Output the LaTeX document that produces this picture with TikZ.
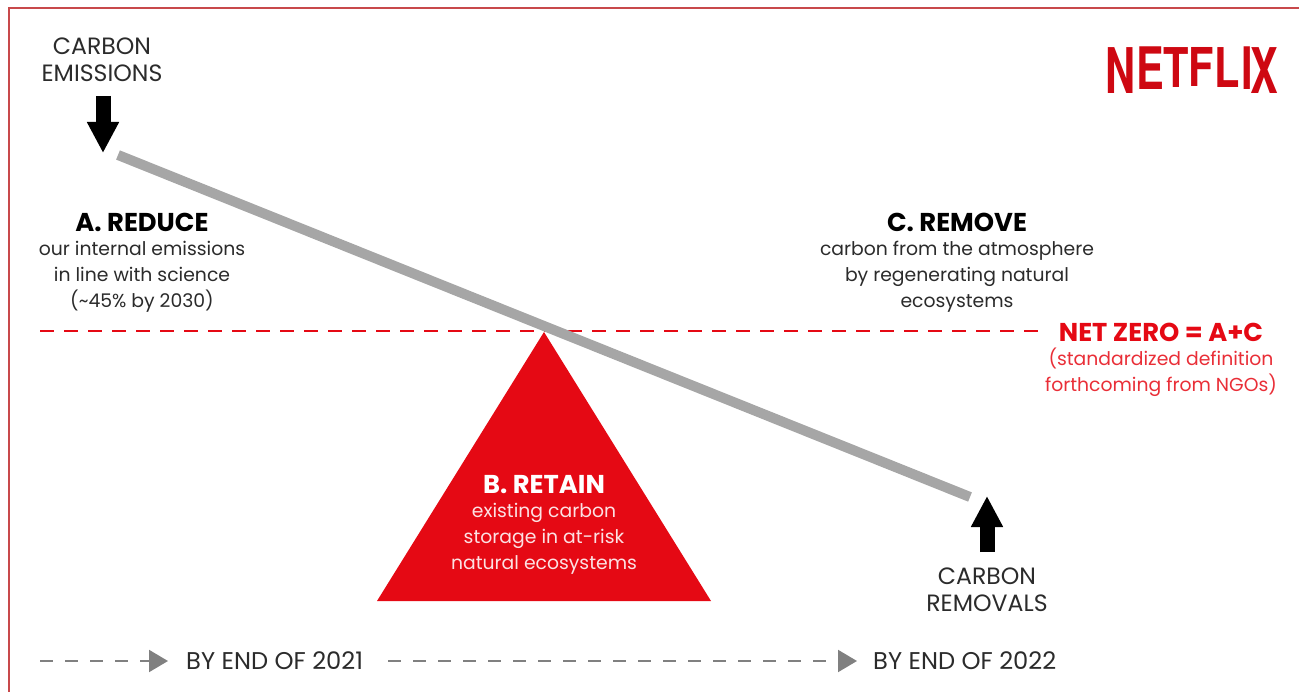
\documentclass[tikz,border=0pt]{standalone}
\usepackage{fontspec}
\setmainfont{Poppins}
\newfontfamily\logofont{TeX Gyre Heros}
\usetikzlibrary{arrows.meta}
\definecolor{nfred}{HTML}{E50914}
\definecolor{inkgray}{HTML}{2B2B2B}
\definecolor{beamgray}{HTML}{A6A6A6}
\definecolor{dashgray}{HTML}{808080}
\definecolor{framered}{HTML}{C8494B}
\tikzset{
  label text/.style={inner sep=0pt,align=center,text=inkgray,font=\fontsize{18.8}{26}\selectfont},
  caps text/.style={inner sep=0pt,align=center,text=inkgray,font=\fontsize{23.6}{27}\selectfont},
  date text/.style={inner sep=0pt,text=inkgray,font=\fontsize{24.2}{27}\selectfont},
  head text/.style={inner sep=0pt,font=\fontsize{25.8}{27}\selectfont\bfseries},
  block arrow/.style={line width=15pt,-{Triangle[length=31pt,width=30pt]}},
  time line/.style={dashgray,line width=2pt,dash pattern=on 13pt off 12pt,-{Triangle[length=19pt,width=22pt]}},
}
\begin{document}
\begin{tikzpicture}[x=1pt,y=-1pt]
  \useasboundingbox (0,0) rectangle (1299,692);
  \draw[framered,line width=2.5pt] (9,692) -- (9,8) -- (1299,8);

  \coordinate (zeroL) at (40,331);
  \coordinate (zeroR) at (1048,331);
  \coordinate (beamL) at (118,155);
  \coordinate (beamR) at (970,497);
  \draw[nfred,line width=2pt,dash pattern=on 14pt off 10pt] (zeroL) -- (zeroR);
  \fill[nfred] (544,332) -- (711,601) -- (377,601) -- cycle;
  \draw[beamgray,line width=10pt] (beamL) -- (beamR);

  \node[caps text] (emissions) at (102,60) {CARBON\\EMISSIONS};
  \coordinate (emitTop) at (103,96);
  \coordinate (emitTip) at (103,153);
  \draw[block arrow] (emitTop) -- (emitTip);

  \node[caps text] (removals) at (987,590) {CARBON\\REMOVALS};
  \coordinate (removeBot) at (987,552);
  \coordinate (removeTip) at (987,496);
  \draw[block arrow] (removeBot) -- (removeTip);

  \node[head text,text=black] (reduce) at (142,222) {A. REDUCE};
  \node[label text,anchor=north] (reducetxt) at (142,241) {our internal emissions\\in line with science\\(\textasciitilde 45\% by 2030)};

  \node[head text,text=black] (remove) at (957,222) {C. REMOVE};
  \node[label text,anchor=north] (removetxt) at (957,241) {carbon from the atmosphere\\by regenerating natural\\ecosystems};

  \node[head text,text=nfred] (netzero) at (1161,332) {NET ZERO = A+C};
  \node[label text,anchor=north,text=nfred!85!white] (netzerotxt) at (1161,348) {(standardized definition\\forthcoming from NGOs)};

  \node[head text,text=white] (retain) at (544,485) {B. RETAIN};
  \node[label text,anchor=north,text=white!88!nfred] (retaintxt) at (544,503) {existing carbon\\storage in at-risk\\natural ecosystems};

  \coordinate (startA) at (40,661);
  \node[date text,anchor=west] (end2021) at (186,661) {BY END OF 2021};
  \coordinate (tipA) at (168,661);
  \draw[time line] (startA) -- (tipA);
  \coordinate (startB) at (388,661);
  \node[date text,anchor=west] (end2022) at (873,661) {BY END OF 2022};
  \coordinate (tipB) at (857,661);
  \draw[time line] (startB) -- (tipB);

  % logo letters hang from the top edge, bottom edge bows upward
  \foreach \ch/\px/\sy [count=\i] in {N/1120/1.00,E/1150/0.93,T/1176/0.87,F/1201/0.85,L/1227/0.87,I/1247/0.93,X/1264/1.00}
    \node[inner sep=0pt,anchor=north,text=nfred!90!black,font=\logofont\fontsize{63}{63}\selectfont\bfseries,xscale=0.66,yscale=\sy] (logo\i) at (\px,47) {\ch};
\end{tikzpicture}
\end{document}
